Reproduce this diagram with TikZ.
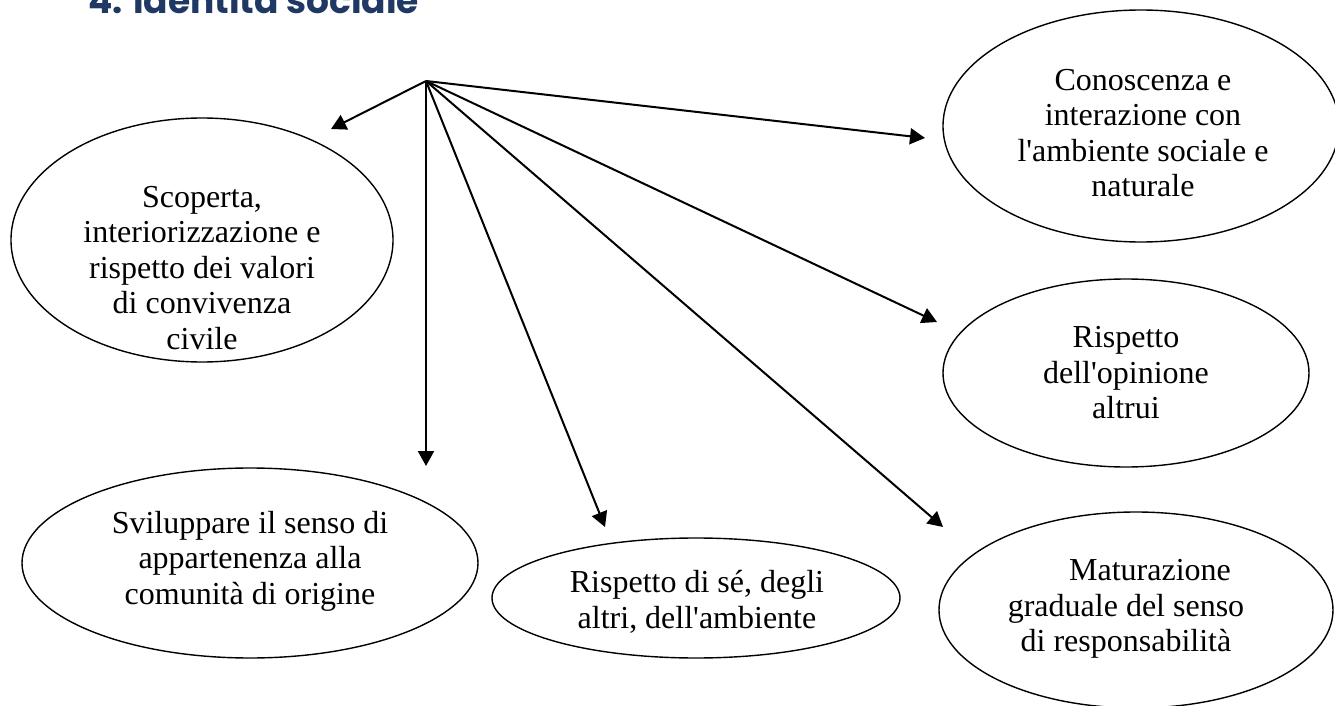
\documentclass[tikz,border=0pt]{standalone}
\usepackage{fontspec}
\setmainfont{Liberation Serif}[Ligatures=TeXOff]
\newfontfamily\titlefont{Poppins}
\usetikzlibrary{arrows.meta,shapes.geometric}
\definecolor{titleblue}{RGB}{31,56,100}
\begin{document}
\begin{tikzpicture}[x=0.5pt,y=-0.5pt,
  oval/.style={draw, ellipse, line width=0.7pt, inner sep=0pt},
  txt/.style={align=center, font=\fontsize{16}{17.75}\selectfont, inner sep=0pt},
  arr/.style={-{Triangle[length=7.5pt,width=8pt]}, line width=1pt}]
\clip (0,0) rectangle (1335,706);
% title
\node[anchor=base west, text=titleblue, font=\titlefont\bfseries\fontsize{18}{20}\selectfont, inner sep=0pt] (title) at (88,13.5) {4. Identità sociale};
% ellipses
\node[oval, minimum width=198pt, minimum height=116pt] (e1) at (1141,126) {};
\node[oval, minimum width=183pt, minimum height=94pt] (e2) at (1126,373) {};
\node[oval, minimum width=197pt, minimum height=98pt] (e3) at (1136,610) {};
\node[oval, minimum width=191pt, minimum height=122pt] (e4) at (202,240) {};
\node[oval, minimum width=228pt, minimum height=95pt] (e5) at (250,563) {};
\node[oval, minimum width=204pt, minimum height=60pt] (e6) at (696,598) {};
% texts
\node[txt] (t1) at (1143,133) {Conoscenza e\\interazione con\\l'ambiente sociale e\\naturale};
\node[txt] (t2) at (1126,373) {Rispetto\\dell'opinione\\altrui};
\node[txt] (t3) at (1126,609) {\hspace*{24pt}Maturazione\\graduale del senso\\di responsabilità};
\node[txt] (t4) at (202,268) {Scoperta,\\interiorizzazione e\\rispetto dei valori\\di convivenza\\civile};
\node[txt] (t5) at (250,561) {Sviluppare il senso di\\appartenenza alla\\comunità di origine};
\node[txt] (t6) at (697,602) {Rispetto di sé, degli\\altri, dell'ambiente};
% arrows
\coordinate (hub) at (426,81);
\coordinate (p1) at (925,138);
\coordinate (p2) at (937,322);
\coordinate (p3) at (943,527);
\coordinate (p4) at (331,129);
\coordinate (p5) at (426,466);
\coordinate (p6) at (605,527);
\draw[arr] (hub) -- (p1);
\draw[arr] (hub) -- (p2);
\draw[arr] (hub) -- (p3);
\draw[arr] (hub) -- (p4);
\draw[arr] (hub) -- (p5);
\draw[arr] (hub) -- (p6);
\end{tikzpicture}
\end{document}
